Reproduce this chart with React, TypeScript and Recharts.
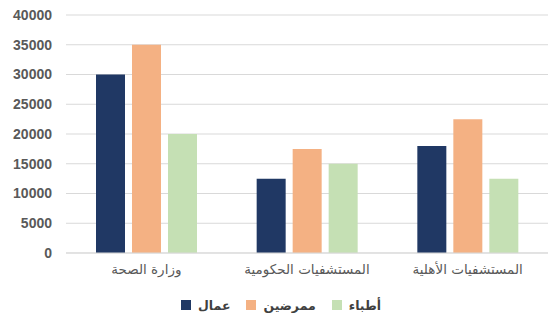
import { BarChart, Bar, XAxis, YAxis, CartesianGrid, Legend } from "recharts";

const categories = ["وزارة الصحة", "المستشفيات الحكومية", "المستشفيات الأهلية"];
const workers = [30000, 12500, 18000];
const nurses = [35000, 17500, 22500];
const doctors = [20000, 15000, 12500];
const yTicks = [0, 5000, 10000, 15000, 20000, 25000, 30000, 35000, 40000];

const series = [
  { key: "workers", name: "عمال", color: "#203864" },
  { key: "nurses", name: "ممرضين", color: "#f4b183" },
  { key: "doctors", name: "أطباء", color: "#c5e0b4" },
];

const data = categories.map((name, i) => ({
  name,
  workers: workers[i],
  nurses: nurses[i],
  doctors: doctors[i],
}));

const textGray = "#595959";

function ChartLegend() {
  return (
    <div style={{ height: 20, display: "flex", justifyContent: "center", alignItems: "center", paddingLeft: 14 }}>
      {series.map((s) => (
        <div key={s.key} style={{ display: "flex", alignItems: "center", marginLeft: 8, marginRight: 8 }}>
          <span style={{ width: 10, height: 10, background: s.color, display: "inline-block", marginRight: 7 }} />
          <span style={{ fontFamily: "'DejaVu Sans', sans-serif", fontSize: 12.5, fontWeight: 700, color: "#404040" }}>
            {s.name}
          </span>
        </div>
      ))}
    </div>
  );
}

export default function App() {
  return (
    <div style={{ position: "absolute", top: 0, left: 0, width: 557, height: 322, background: "#fff" }}>
      <BarChart
        width={557}
        height={322}
        data={data}
        margin={{ top: 15, right: 9, left: 0, bottom: 7 }}
        barGap={7}
        barSize={29}
      >
        <CartesianGrid vertical={false} stroke="#d9d9d9" />
        <XAxis
          dataKey="name"
          axisLine={{ stroke: "#d9d9d9" }}
          tickLine={false}
          tickMargin={5}
          height={42}
          interval={0}
          tick={{ fill: textGray, fontSize: 13.5, fontFamily: "'DejaVu Sans', sans-serif" }}
        />
        <YAxis
          domain={[0, 40000]}
          ticks={yTicks}
          width={66}
          axisLine={false}
          tickLine={false}
          tickMargin={8}
          tick={{ fill: textGray, fontSize: 14, fontWeight: 700, fontFamily: "'Liberation Sans', Arial, sans-serif" }}
        />
        <Legend content={ChartLegend} verticalAlign="bottom" height={20} />
        {series.map((s) => (
          <Bar key={s.key} dataKey={s.key} name={s.name} fill={s.color} isAnimationActive={false} />
        ))}
      </BarChart>
    </div>
  );
}
